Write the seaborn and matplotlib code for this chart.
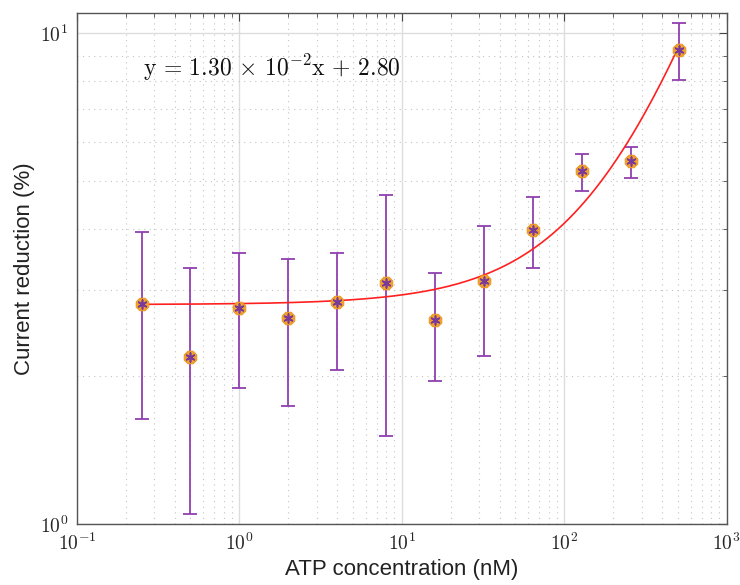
import numpy as np
import pandas as pd
import seaborn as sns
import matplotlib.pyplot as plt
from matplotlib.ticker import FuncFormatter, LogLocator

# data
conc = [0.25, 0.5, 1, 2, 4, 8, 16, 32, 64, 128, 256, 512]
reduction = [2.81, 2.19, 2.75, 2.63, 2.83, 3.10, 2.61, 3.13, 3.98, 5.23, 5.48, 9.23]
err_hi = [3.94, 3.32, 3.57, 3.47, 3.56, 4.69, 3.24, 4.04, 4.63, 5.66, 5.85, 10.5]
err_lo = [1.64, 1.05, 1.89, 1.74, 2.06, 1.51, 1.96, 2.20, 3.33, 4.78, 5.08, 8.02]

# linear fit shown on the chart
slope = 1.30e-2
intercept = 2.80

df = pd.DataFrame({'conc': conc, 'red': reduction, 'hi': err_hi, 'lo': err_lo})
xfit = np.logspace(np.log10(conc[0]), np.log10(conc[-1]), 200)
fit = pd.DataFrame({'x': xfit, 'y': slope * xfit + intercept})

sns.set_style('whitegrid')
plt.rcParams['font.family'] = ['Liberation Sans', 'DejaVu Sans']
plt.rcParams['mathtext.fontset'] = 'cm'

fig = plt.figure(figsize=(7.4, 5.85), dpi=100)
ax = fig.add_axes([0.104, 0.104, 0.878, 0.8735])
ax.set_xscale('log')
ax.set_yscale('log')

purple = '#9040b0'
ax.errorbar(df['conc'], df['red'],
            yerr=[df['red'] - df['lo'], df['hi'] - df['red']],
            fmt='none', ecolor=purple, elinewidth=1.3, capsize=5, capthick=1.3, zorder=3)
sns.lineplot(data=fit, x='x', y='y', color='#ff2020', linewidth=1.2, ax=ax, zorder=4)
sns.scatterplot(data=df, x='conc', y='red', marker='8', s=100, color='#f2a22a',
                edgecolor='#e8901a', linewidth=0.5, ax=ax, zorder=5)
sns.scatterplot(data=df, x='conc', y='red', marker=(6, 2, 0), s=40, color='#7a3a9a',
                edgecolor='#7a3a9a', linewidth=1.2, ax=ax, zorder=6)

ax.set_xlim(0.1, 1000)
ax.set_ylim(1, 10.98)

ax.xaxis.set_major_locator(LogLocator(base=10, numticks=10))
ax.xaxis.set_minor_locator(LogLocator(base=10, subs=np.arange(2, 10), numticks=20))
ax.yaxis.set_major_locator(LogLocator(base=10, numticks=10))
ax.yaxis.set_minor_locator(LogLocator(base=10, subs=np.arange(2, 10), numticks=20))
fmt = FuncFormatter(lambda v, p: r'$10^{%d}$' % int(round(np.log10(v))))
ax.xaxis.set_major_formatter(fmt)
ax.yaxis.set_major_formatter(fmt)
ax.yaxis.set_minor_formatter(FuncFormatter(lambda v, p: ''))
ax.xaxis.set_minor_formatter(FuncFormatter(lambda v, p: ''))

ax.grid(True, which='major', color='#dddddd', linewidth=1.0, linestyle='-')
ax.grid(True, which='minor', color='#c4c4c4', linewidth=0.8, linestyle=(0, (1, 4)))
ax.set_axisbelow(True)

ax.tick_params(which='both', direction='in', top=True, right=True, color='#444444')
ax.tick_params(which='major', length=6, width=0.8, labelsize=14, pad=6)
ax.tick_params(which='minor', length=3, width=0.6)
for s in ax.spines.values():
    s.set_color('#555555')
    s.set_linewidth(1.0)

ax.set_xlabel('ATP concentration (nM)', fontsize=16, color='#222222', labelpad=4)
ax.set_ylabel('Current reduction (%)', fontsize=16, color='#222222', labelpad=4)

ax.text(0.255, 8.5, r'$\mathrm{y\,=\,1.30\,\times\,10^{-2}x\,+\,2.80}$',
        fontsize=17, color='#111111', va='center', ha='left')

fig.savefig('out.png', dpi=100)
